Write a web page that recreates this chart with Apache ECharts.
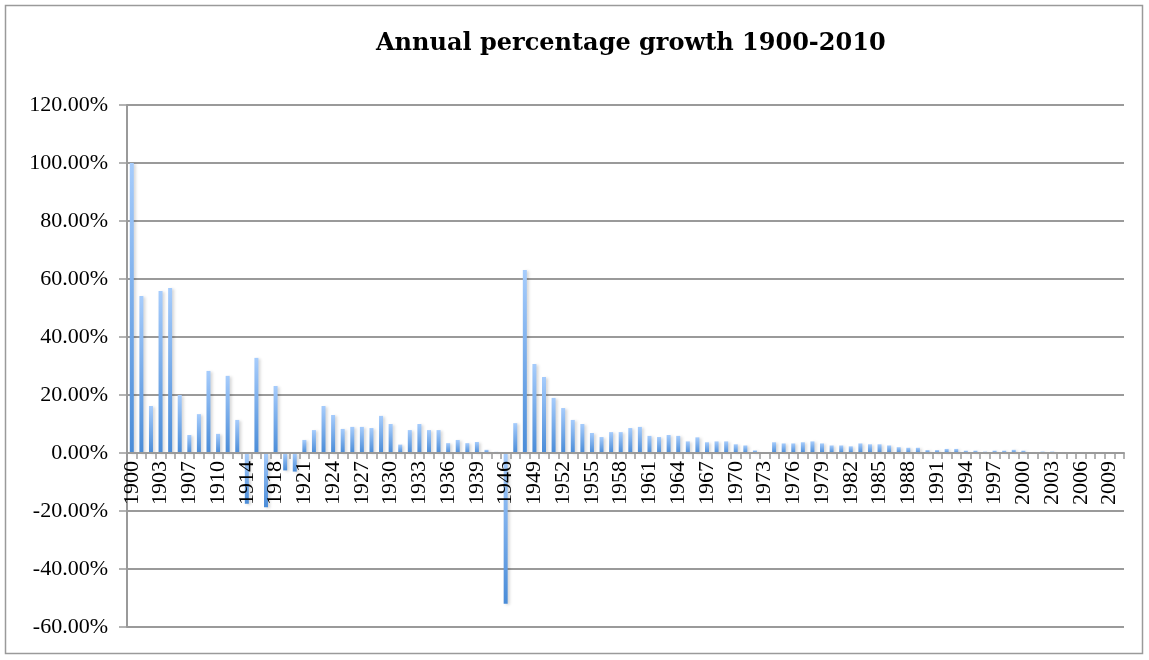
<!DOCTYPE html>
<html>
<head>
<meta charset="utf-8">
<script src="https://cdn.jsdelivr.net/npm/echarts@6/dist/echarts.min.js"></script>
<style>html,body{margin:0;padding:0;background:#fff;}#c{width:1149px;height:660px;}</style>
</head>
<body>
<div id="c"></div>
<script>
var titleText = 'Annual percentage growth 1900-2010';
var years = ['1900','1901','1902','1903','1904','1905','1907','1908','1909','1910',
  '1911','1912','1914','1915','1916','1918','1919','1920','1921','1922',
  '1923','1924','1925','1926','1927','1928','1929','1930','1931','1932',
  '1933','1934','1935','1936','1937','1938','1939','1940','1941','1946',
  '1947','1948','1949','1950','1951','1952','1953','1954','1955','1956',
  '1957','1958','1959','1960','1961','1962','1963','1964','1965','1966',
  '1967','1968','1969','1970','1971','1972','1973','1974','1975','1976',
  '1977','1978','1979','1980','1981','1982','1983','1984','1985','1986',
  '1987','1988','1989','1990','1991','1992','1993','1994','1995','1996',
  '1997','1998','1999','2000','2001','2002','2003','2004','2005','2006',
  '2007','2008','2009','2010'];
var growth = [100.0, 54.1, 16.2, 55.9, 56.9, 20.0, 6.2, 13.4, 28.3, 6.6,
  26.6, 11.4, -17.5, 32.8, -18.7, 23.1, -6.0, -6.4, 4.5, 7.9,
  16.2, 13.1, 8.3, 9.0, 9.0, 8.6, 12.8, 10.0, 2.9, 7.9,
  10.0, 7.9, 7.9, 3.4, 4.5, 3.4, 3.8, 1.1, 0.4, -52.0,
  10.3, 63.1, 30.7, 26.2, 19.0, 15.5, 11.4, 10.0, 6.9, 5.5,
  7.2, 7.2, 8.6, 9.0, 5.9, 5.5, 6.2, 5.9, 4.0, 5.4,
  3.7, 4.0, 4.0, 3.0, 2.6, 0.9, 0, 3.7, 3.3, 3.3,
  3.7, 4.0, 3.3, 2.6, 2.6, 2.3, 3.3, 3.0, 3.0, 2.6,
  2.0, 1.8, 1.8, 1.0, 1.0, 1.4, 1.4, 0.8, 0.8, 0.5,
  0.8, 0.8, 1.1, 0.8, 0.2, 0.5, 0.5, 0.2, 0, 0.2,
  0.2, 0.2, 0.1, 0];
var yMin = -60, yMax = 120, yStep = 20;

var gridTop = 105, gridBottomPx = 627;
var zeroPx = gridTop + (yMax - 0) / (yMax - yMin) * (gridBottomPx - gridTop);

var chart = echarts.init(document.getElementById('c'), null, {renderer: 'canvas'});
var grad = new echarts.graphic.LinearGradient(0, 0, 0, 1, [
  {offset: 0, color: '#a6ccfc'},
  {offset: 1, color: '#4a8cd8'}
]);
chart.setOption({
  animation: false,
  backgroundColor: '#ffffff',
  title: {
    text: titleText,
    left: 371, top: 27,
    textStyle: {fontFamily: 'DejaVu Serif', fontWeight: 'bold', fontSize: 24, color: '#000'}
  },
  graphic: [{
    type: 'rect', silent: true, z: -10,
    shape: {x: 5.5, y: 5.5, width: 1137, height: 648},
    style: {fill: 'none', stroke: '#9a9a9a', lineWidth: 1.5}
  }],
  grid: {left: 127, right: 25, top: gridTop, bottom: 660 - gridBottomPx, containLabel: false, outerBoundsMode: 'none'},
  xAxis: {
    type: 'category',
    data: years,
    z: 5,
    position: 'bottom',
    offset: -(gridBottomPx - zeroPx),
    axisLine: {onZero: false, lineStyle: {color: '#9a9a9a', width: 2}},
    axisTick: {show: true, interval: 0, length: 6, lineStyle: {color: '#9a9a9a', width: 1.5}},
    axisLabel: {interval: 2, rotate: 90, margin: 8, fontFamily: 'Liberation Serif', fontSize: 22, color: '#000'},
    splitLine: {show: false}
  },
  yAxis: {
    type: 'value',
    min: yMin, max: yMax, interval: yStep,
    axisLine: {show: true, lineStyle: {color: '#9a9a9a', width: 2}},
    axisTick: {show: true, length: 8, lineStyle: {color: '#9a9a9a', width: 1.5}},
    axisLabel: {margin: 19, fontFamily: 'Liberation Serif', fontSize: 22, color: '#000',
      formatter: function (v) { return v.toFixed(2) + '%'; }},
    splitLine: {lineStyle: {color: '#9a9a9a', width: 2}}
  },
  series: [{
    type: 'bar',
    data: growth,
    barWidth: 4,
    itemStyle: {
      color: grad,
      shadowColor: 'rgba(0,0,0,0.16)',
      shadowBlur: 3,
      shadowOffsetX: 2,
      shadowOffsetY: 1
    }
  }]
});
</script>
</body>
</html>
